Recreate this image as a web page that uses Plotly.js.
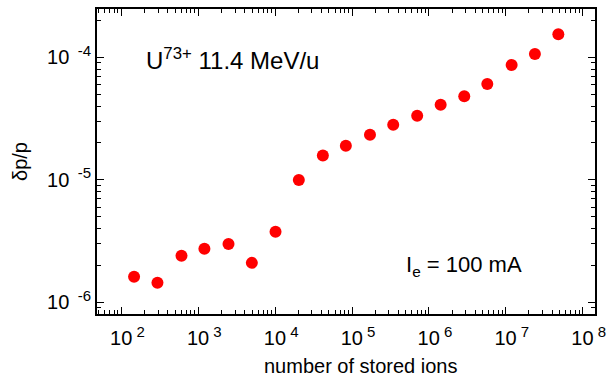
<!DOCTYPE html>
<html>
<head>
<meta charset="utf-8">
<script src="https://cdn.plot.ly/plotly-3.0.1.min.js"></script>
<style>html,body{margin:0;padding:0;background:#fff;}#chart{width:610px;height:384px;}</style>
</head>
<body>
<div id="chart"></div>
<script>
// Data
const storedIons = [146, 294, 604, 1200, 2470, 4970, 10100, 20300, 41700, 83000,
  171000, 343000, 703000, 1420000, 2880000, 5740000, 11900000, 23900000, 48200000];
const dpOverP = [1.62e-6, 1.445e-6, 2.40e-6, 2.74e-6, 2.99e-6, 2.10e-6, 3.77e-6, 9.96e-6,
  1.58e-5, 1.90e-5, 2.33e-5, 2.82e-5, 3.34e-5, 4.10e-5, 4.80e-5, 6.05e-5, 8.65e-5, 1.064e-4, 1.54e-4];

const xTickVals = [1e2, 1e3, 1e4, 1e5, 1e6, 1e7, 1e8];
const xTickText = ['2', '3', '4', '5', '6', '7', '8'];
const yTickVals = [1e-6, 1e-5, 1e-4];
const yTickText = ['-6', '-5', '-4'];
const xTitle = 'number of stored ions';
const yTitle = 'δp/p';

const NB = '\u00a0';
const font = 'Arial, "Liberation Sans", Helvetica, sans-serif';
const sup = s => '<sup><span style="font-size:15px">' + s + '</span></sup>';

const trace = {
  x: storedIons,
  y: dpOverP,
  type: 'scatter',
  mode: 'markers',
  marker: {color: '#ff0000', size: 12, line: {width: 0}},
  hoverinfo: 'skip'
};

const layout = {
  width: 610,
  height: 384,
  margin: {l: 97, r: 15, t: 9, b: 70},
  paper_bgcolor: '#ffffff',
  plot_bgcolor: '#ffffff',
  showlegend: false,
  font: {family: font, color: '#000', size: 20},
  xaxis: {
    type: 'log',
    range: [1.682, 8.16],
    tickmode: 'array',
    tickvals: xTickVals,
    ticktext: xTickText.map(e => '10' + sup(NB + e)),
    ticks: 'inside',
    ticklen: 7,
    tickwidth: 1,
    tickcolor: '#000',
    ticklabelstandoff: 5,
    ticklabelshift: 6,
    showline: true,
    linecolor: '#000',
    linewidth: 2,
    mirror: 'allticks',
    showgrid: false,
    zeroline: false,
    tickfont: {family: font, size: 20, color: '#000'},
    minor: {ticks: 'inside', ticklen: 4, tickwidth: 1, tickcolor: '#000', dtick: 'D1', showgrid: false}
  },
  yaxis: {
    type: 'log',
    range: [-6.095, -3.606],
    tickmode: 'array',
    tickvals: yTickVals,
    ticktext: yTickText.map(e => '10' + sup(NB + NB + e)),
    ticks: 'inside',
    ticklen: 7,
    tickwidth: 1,
    tickcolor: '#000',
    showline: true,
    linecolor: '#000',
    linewidth: 2,
    mirror: 'allticks',
    showgrid: false,
    zeroline: false,
    tickfont: {family: font, size: 20, color: '#000'},
    minor: {ticks: 'inside', ticklen: 4, tickwidth: 1, tickcolor: '#000', dtick: 'D1', showgrid: false},
    title: {text: yTitle, font: {family: font, size: 20, color: '#000'}, standoff: 14}
  },
  annotations: [
    {xref: 'paper', yref: 'paper', x: 0.53, y: -0.17, xanchor: 'center', yanchor: 'middle',
     text: xTitle, showarrow: false, font: {family: font, size: 20, color: '#000'}},
    {xref: 'paper', yref: 'paper', x: 0.094, y: 0.836, xanchor: 'left', yanchor: 'middle',
     text: 'U<sup>73+</sup> 11.4 MeV/u', showarrow: false, font: {family: font, size: 24, color: '#000'}},
    {xref: 'paper', yref: 'paper', x: 0.616, y: 0.156, xanchor: 'left', yanchor: 'middle',
     text: 'I<sub>e</sub> = 100 mA', showarrow: false, font: {family: font, size: 22, color: '#000'}}
  ]
};

Plotly.newPlot('chart', [trace], layout, {displayModeBar: false, staticPlot: true});
</script>
</body>
</html>
